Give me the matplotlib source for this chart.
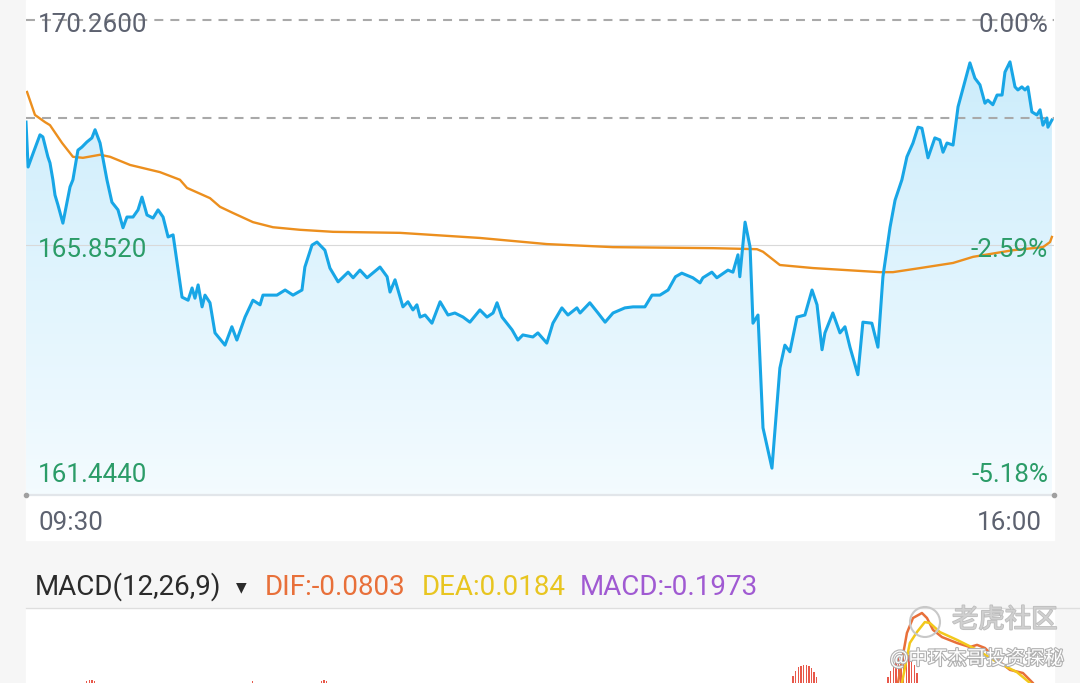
import numpy as np
import matplotlib.pyplot as plt
import matplotlib.patheffects as pe
from matplotlib.patches import Rectangle, Ellipse, Polygon
from matplotlib import transforms

plt.rcParams['font.family'] = ['Roboto', 'DejaVu Sans']

# ---- data (minutes after 09:30, prices) ----
label_levels = [170.26, 165.852, 161.444]
price_labels = ['170.2600', '165.8520', '161.4440']
pct_labels = ['0.00%', '-2.59%', '-5.18%']
ref_level = 168.34
time_labels = ['09:30', '16:00']

minutes = [0, 0.8, 2.7, 5.3, 6.4, 8.3, 9.1, 10.2, 11.0, 12.1, 14.0, 16.7, 17.8, 19.7, 21.2,
           23.1, 25.0, 26.2, 28.1, 30.7, 32.6, 34.9, 36.8, 38.3, 40.6, 42.5, 44.0, 45.9,
           48.2, 50.1, 52.0, 53.9, 55.8, 59.2, 61.5, 63.0, 64.1, 65.3, 66.8, 67.9, 69.8,
           71.7, 75.5, 78.1, 80.0, 83.1, 86.1, 88.8, 89.9, 95.2, 98.3, 101.3, 104.7, 105.8,
           108.5, 110.4, 113.4, 115.3, 118.4, 122.2, 124.1, 126.7, 129.4, 134.3, 137.0,
           138.1, 140.0, 143.0, 144.9, 146.8, 148.3, 149.5, 151.4, 154.0, 157.1, 160.1,
           162.7, 165.8, 168.4, 172.2, 174.9, 177.2, 178.7, 180.6, 184.4, 186.6, 188.5,
           192.3, 194.2, 197.6, 199.9, 203.3, 205.6, 209.0, 210.2, 213.9, 217.0, 219.7,
           222.7, 227.2, 230.3, 234.8, 237.5, 240.5, 243.6, 246.4, 248.8, 253.0, 255.7,
           256.8, 260.2, 262.1, 266.3, 268.2, 270.1, 270.8, 272.8, 274.7, 275.8, 277.7,
           279.6, 283.0, 286.0, 287.9, 289.8, 292.5, 295.5, 298.2, 300.1, 302.0, 303.1,
           306.1, 308.8, 310.7, 312.6, 315.6, 317.5, 320.9, 323.2, 325.1, 327.8, 329.7,
           332.3, 334.2, 336.5, 338.4, 339.9, 342.2, 344.8, 346.7, 347.9, 349.4, 351.7,
           353.6, 358.1, 360.0, 361.9, 363.8, 364.9, 366.8, 368.4, 370.3, 371.4, 373.3,
           375.2, 376.3, 377.8, 379.0, 380.1, 381.6, 383.5, 384.7, 385.8, 387.3, 387.7,
           389.2]
price = [168.26, 167.38, 167.65, 168.01, 167.97, 167.58, 167.46, 167.13, 166.83, 166.64,
         166.28, 166.99, 167.13, 167.71, 167.77, 167.87, 167.95, 168.11, 167.85, 167.13,
         166.69, 166.54, 166.19, 166.40, 166.40, 166.54, 166.79, 166.44, 166.38, 166.54,
         166.40, 166.01, 166.05, 164.83, 164.77, 165.01, 164.81, 165.07, 164.64, 164.87,
         164.72, 164.13, 163.89, 164.25, 163.99, 164.44, 164.77, 164.68, 164.87, 164.87,
         164.97, 164.87, 164.97, 165.42, 165.85, 165.91, 165.75, 165.40, 165.13, 165.32,
         165.21, 165.36, 165.21, 165.42, 165.23, 164.93, 165.17, 164.64, 164.74, 164.58,
         164.68, 164.44, 164.48, 164.32, 164.74, 164.48, 164.52, 164.44, 164.34, 164.58,
         164.44, 164.52, 164.72, 164.44, 164.19, 163.99, 164.09, 164.05, 164.13, 163.93,
         164.32, 164.62, 164.48, 164.62, 164.52, 164.72, 164.52, 164.34, 164.52, 164.62,
         164.64, 164.64, 164.87, 164.87, 164.97, 165.23, 165.30, 165.21, 165.11, 165.21,
         165.32, 165.21, 165.36, 165.32, 165.66, 165.23, 166.30, 165.81, 164.32, 164.48,
         162.27, 161.48, 163.44, 163.89, 163.76, 164.44, 164.48, 164.97, 164.68, 163.80,
         164.13, 164.52, 164.13, 164.25, 163.85, 163.31, 164.34, 164.32, 163.85, 165.23,
         166.20, 166.73, 167.13, 167.58, 167.85, 168.16, 168.14, 167.56, 167.95, 167.91,
         167.67, 167.85, 167.81, 168.56, 169.42, 169.12, 168.99, 168.63, 168.69, 168.60,
         168.79, 168.79, 169.24, 169.44, 168.95, 168.89, 168.95, 168.89, 168.95, 168.46,
         168.40, 168.50, 168.20, 168.34, 168.16, 168.30]

avg_minutes = [0.4, 3.4, 7.2, 9.1, 13.7, 17.8, 21.6, 28.1, 31.9, 39.5, 50.8, 58.4, 61.1,
               69.8, 73.6, 78.5, 86.1, 93.7, 103.9, 116.5, 141.9, 172.2, 197.6, 222.7,
               260.6, 277.3, 279.6, 286.0, 298.6, 324.0, 328.9, 339.2, 351.7, 359.3,
               374.4, 385.8, 388.5, 389.2]
avg_price = [168.85, 168.40, 168.26, 168.20, 167.85, 167.58, 167.56, 167.62, 167.58,
             167.42, 167.28, 167.13, 166.97, 166.77, 166.60, 166.48, 166.30, 166.20,
             166.15, 166.11, 166.09, 165.99, 165.87, 165.81, 165.79, 165.77, 165.72,
             165.46, 165.40, 165.32, 165.32, 165.40, 165.50, 165.62, 165.75, 165.81,
             165.91, 166.01]

hist_minutes = [23, 24, 25, 26, 86, 112, 113, 114,
                291, 292, 293, 294, 295, 296, 297, 298, 299, 300,
                327, 328, 329, 330, 331, 332, 333, 334, 335, 336, 337, 338]
hist_values = [0.066, 0.069, 0.070, 0.066, 0.066, 0.068, 0.070, 0.067,
               0.082, 0.098, 0.110, 0.116, 0.119, 0.119, 0.116, 0.108, 0.096, 0.080,
               0.080, 0.100, 0.118, 0.132, 0.144, 0.152, 0.156, 0.156, 0.150, 0.138,
               0.118, 0.092]

dif_minutes = [329.7, 330.8, 334.2, 336.5, 339.9, 341.8, 344.1, 347.5, 353.2, 358.1,
               360.8, 363.8, 368.4, 373.3, 378.2, 382.0, 384.7]
dif_values = [0.006, 0.06, 0.22, 0.268, 0.284, 0.268, 0.230, 0.207, 0.188, 0.175,
              0.182, 0.172, 0.134, 0.102, 0.092, 0.06, 0.022]
dea_minutes = [331.6, 332.3, 335.3, 338.0, 341.0, 342.9, 346.7, 353.2, 360.8, 368.4,
               375.9, 380.9, 383.9]
dea_values = [0.006, 0.06, 0.188, 0.223, 0.255, 0.252, 0.223, 0.198, 0.166, 0.127,
              0.095, 0.06, 0.022]

# ---- layout helpers (pixel -> figure fraction) ----
W, H = 1080, 683
fig = plt.figure(figsize=(10.8, 6.83), dpi=100, facecolor='#f6f6f6')


def fx(px):
    return px / W


def fy(py):
    return 1 - py / H


fig.patches.append(Rectangle((fx(26), fy(540)), 1028 / W, 540 / H,
                             transform=fig.transFigure, color='white', zorder=-5))
fig.patches.append(Rectangle((fx(26), 0), 1028 / W, 75 / H,
                             transform=fig.transFigure, color='white', zorder=-5))
fig.add_artist(plt.Line2D([fx(26), 1], [fy(608), fy(608)], transform=fig.transFigure,
                          color='#dedede', lw=1, zorder=-4))

# ---- price panel ----
ymin, ymax = 160.954, 170.652
ax = fig.add_axes([fx(26), fy(495), 1028 / W, 495 / H])
ax.axis('off')

grad = np.linspace(0, 1, 256)[:, None, None]
top_c = np.array([0.78, 0.92, 0.985])
bot_c = np.array([0.955, 0.985, 1.0])
img = top_c + (bot_c - top_c) * grad
im = ax.imshow(img, extent=[0, 390, ymin, ymax], aspect='auto', origin='upper', zorder=1)
poly = Polygon(np.column_stack([np.r_[minutes[0], minutes, minutes[-1]],
                                np.r_[ymin, price, ymin]]),
               closed=True, facecolor='none', edgecolor='none')
ax.add_patch(poly)
im.set_clip_path(poly)

ax.axhline(label_levels[0], color='#a9a9a9', lw=1.5, dashes=(4.3, 3.4), zorder=2)
ax.axhline(ref_level, color='#a9a9a9', lw=1.5, dashes=(4.3, 3.4), zorder=2)
ax.axhline(label_levels[1], color='#d9d9d9', lw=0.8, zorder=2)
ax.plot([0, 390], [ymin, ymin], color='#e2e6ea', lw=1.6, clip_on=False, zorder=2)
ax.plot([0, 390], [ymin, ymin], 'o', color='#a0a0a0', ms=3, clip_on=False, zorder=2)

ax.plot(avg_minutes, avg_price, color='#ec8f1e', lw=1.7, zorder=3)
ax.plot(minutes, price, color='#18a6e6', lw=2.2, zorder=4)
ax.set_xlim(0, 390)
ax.set_ylim(ymin, ymax)

blend = transforms.blended_transform_factory(ax.transAxes, ax.transData)
trans = transforms.offset_copy(blend, fig=fig, x=0, y=-12, units='dots')
for i, (lvl, lab, pct) in enumerate(zip(label_levels, price_labels, pct_labels)):
    col = '#5d6270' if i == 0 else '#2b9c68'
    ax.text(12 / 1028, lvl, lab, transform=trans, color=col, fontsize=18.7,
            va='baseline', ha='left', zorder=5)
    ax.text(1022 / 1028, lvl, pct, transform=trans, color=col, fontsize=18.7,
            va='baseline', ha='right', zorder=5)

fig.text(fx(38), fy(530), time_labels[0], color='#5d6270', fontsize=18.7, va='baseline')
fig.text(fx(1042), fy(530), time_labels[1], color='#5d6270', fontsize=18.7,
         va='baseline', ha='right')

# ---- MACD header ----
fig.text(fx(35), fy(595), 'MACD(12,26,9)', color='#2b2b2b', fontsize=20, va='baseline')
fig.text(fx(236), fy(591), '▼', color='#2b2b2b', fontsize=10, va='baseline',
         family='DejaVu Sans')
fig.text(fx(265), fy(595), 'DIF:-0.0803', color='#e8703a', fontsize=20, va='baseline')
fig.text(fx(422), fy(595), 'DEA:0.0184', color='#e8c520', fontsize=20, va='baseline')
fig.text(fx(580), fy(595), 'MACD:-0.1973', color='#a05ad2', fontsize=20, va='baseline')

# ---- MACD panel ----
mx = fig.add_axes([fx(26), 0, 1028 / W, 75 / H])
mx.axis('off')
mx.bar(hist_minutes, hist_values, width=0.5, color='#e8584a', zorder=2)
mx.plot(dif_minutes, dif_values, color='#e8703a', lw=1.8, zorder=3)
mx.plot(dea_minutes, dea_values, color='#f2c81c', lw=1.8, zorder=3)
mx.set_xlim(0, 390)
mx.set_ylim(0.06, 0.30)

# ---- watermark ----
fig.add_artist(Ellipse((fx(925), fy(622)), 30 / W, 30 / H, transform=fig.transFigure,
                       fill=False, edgecolor='#c8c8c8', lw=1.5, zorder=10))
fig.text(fx(952), fy(620), '老虎社区', color='#d0d0d0', fontsize=19, va='center',
         family=['Noto Sans CJK SC', 'DejaVu Sans'], zorder=10,
         path_effects=[pe.withStroke(linewidth=1.2, foreground='#bdbdbd')])
fig.text(fx(890), fy(659), '@中环杰哥投资探秘', color='white', fontsize=14, va='center',
         family=['Noto Sans CJK SC', 'DejaVu Sans'], zorder=10,
         path_effects=[pe.withStroke(linewidth=1.6, foreground='#b0b0b0')])

fig.savefig('out.png', dpi=100, facecolor=fig.get_facecolor())
